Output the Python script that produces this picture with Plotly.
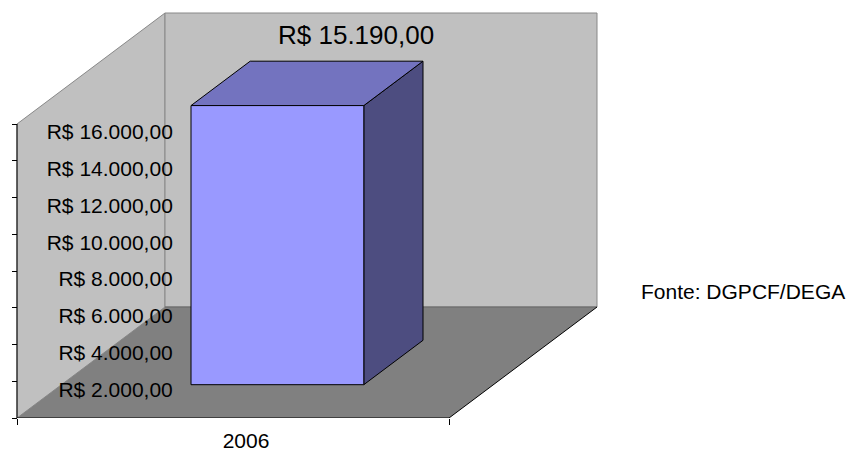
import plotly.graph_objects as go

categories = ["2006"]
values = [15190]
value_labels = ["R$ 15.190,00"]
tick_values = [0, 2000, 4000, 6000, 8000, 10000, 12000, 14000, 16000]
tick_labels = ["", "R$ 2.000,00", "R$ 4.000,00", "R$ 6.000,00", "R$ 8.000,00",
               "R$ 10.000,00", "R$ 12.000,00", "R$ 14.000,00", "R$ 16.000,00"]
source_note = "Fonte: DGPCF/DEGA"

W, H = 848, 451
FONT = "Liberation Sans, Arial, sans-serif"

# pixel frame of the front edge of the floor
X0_PX, X1_PX, BASE_PX, WALL_PX = 17, 449, 418, 294
y_max = tick_values[-1]
px_per_val = WALL_PX / y_max
n = len(categories)

# oblique depth vector (full depth), expressed in axis units
DX = 148 / (X1_PX - X0_PX) * n
DY = 111 / px_per_val


def proj(u, d, v):
    return u + d * DX, v + d * DY


def poly(pts):
    xs, ys = zip(*[proj(*p) for p in pts + pts[:1]])
    return list(xs), list(ys)


fig = go.Figure()


def face(pts, fill, line="black", width=1):
    xs, ys = poly(pts)
    fig.add_trace(go.Scatter(x=xs, y=ys, mode="lines", fill="toself", fillcolor=fill,
                             line=dict(color=line, width=width), hoverinfo="skip"))


def edge(pts, color, width=1):
    xs, ys = zip(*[proj(*p) for p in pts])
    fig.add_trace(go.Scatter(x=list(xs), y=list(ys), mode="lines",
                             line=dict(color=color, width=width), hoverinfo="skip"))


# walls and floor
face([(0, 0, 0), (0, 1, 0), (0, 1, y_max), (0, 0, y_max)], "#C0C0C0", "#888888")
face([(0, 1, 0), (n, 1, 0), (n, 1, y_max), (0, 1, y_max)], "#C0C0C0", "#888888")
face([(0, 0, 0), (n, 0, 0), (n, 1, 0), (0, 1, 0)], "#808080", "rgba(0,0,0,0)", 0)
edge([(0, 1, 0), (n, 1, 0)], "#666666")
edge([(n, 0, 0), (n, 1, 0)], "black")
edge([(0, 0, 0), (n, 0, 0)], "black")
edge([(0, 0, 0), (0, 0, y_max)], "black")

# bars
d0, d1 = 0.3, 0.7
for i, v in enumerate(values):
    a, b = i + 0.3, i + 0.7
    face([(b, d0, 0), (b, d1, 0), (b, d1, v), (b, d0, v)], "#4D4D80")
    face([(a, d0, v), (b, d0, v), (b, d1, v), (a, d1, v)], "#7373BF")
    face([(a, d0, 0), (b, d0, 0), (b, d0, v), (a, d0, v)], "#9999FF")
    lx, ly = proj(i + 0.5, 0.83, v)
    fig.add_annotation(x=lx, y=v + 0.94 * DY, text=value_labels[i], showarrow=False,
                       font=dict(size=26, color="black", family=FONT))

fig.add_annotation(x=639 / W, y=(BASE_PX - 291) / BASE_PX, xref="paper", yref="paper",
                   xanchor="left", yanchor="middle", text=source_note, showarrow=False,
                   font=dict(size=21, color="black", family=FONT))

span = X1_PX - X0_PX
fig.update_layout(
    width=W, height=H,
    margin=dict(l=0, r=0, t=0, b=H - BASE_PX),
    paper_bgcolor="white", plot_bgcolor="rgba(0,0,0,0)",
    showlegend=False,
    font=dict(family=FONT, size=21, color="black"),
    xaxis=dict(range=[-X0_PX / span * n, (W - X0_PX) / span * n],
               showgrid=False, zeroline=False, showline=False,
               tickmode="array", tickvals=[i + 0.5 for i in range(n)], ticktext=categories,
               ticks="", ticklabelshift=13, ticklabelstandoff=8,
               minor=dict(tickmode="array", tickvals=list(range(n + 1)), ticks="outside",
                          ticklen=6, tickcolor="black", showgrid=False),
               tickfont=dict(size=21), fixedrange=True, automargin=False),
    yaxis=dict(range=[0, BASE_PX / px_per_val], anchor="free", position=X0_PX / W,
               showgrid=False, zeroline=False, showline=False,
               tickmode="array", tickvals=tick_values, ticktext=tick_labels,
               ticks="outside", ticklen=5, tickcolor="black",
               ticklabelstandoff=-165, ticklabelshift=8,
               tickfont=dict(size=21), fixedrange=True, automargin=False),
)

fig.write_html("out.html", config={"displayModeBar": False},
               post_script="document.body.style.margin='0';")
